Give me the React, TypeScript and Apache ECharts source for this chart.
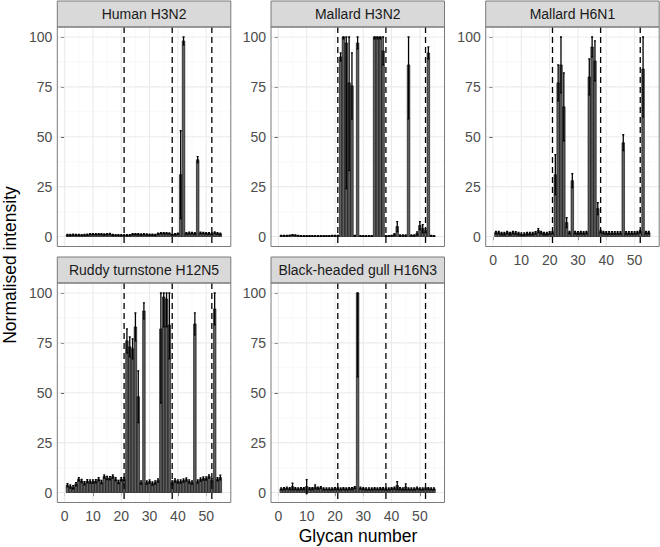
import React, { useEffect, useRef } from "react";
import * as echarts from "echarts";

const glycans = [
  1, 2, 3, 4, 5, 6, 7, 8, 9, 10,
  11, 12, 13, 14, 15, 16, 17, 18, 19, 20,
  21, 22, 23, 24, 25, 26, 27, 28, 29, 30,
  31, 32, 33, 34, 35, 36, 37, 38, 39, 40,
  41, 42, 43, 44, 45, 46, 47, 48, 49, 50,
  51, 52, 53, 54, 55,
];

const panelTitles = [
  "Human H3N2",
  "Mallard H3N2",
  "Mallard H6N1",
  "Ruddy turnstone H12N5",
  "Black-headed gull H16N3",
];

const humanH3N2Mean = [
  0.8, 0.8, 0.9, 0.8, 0.8, 0.7, 0.8, 0.9, 1.1, 1.2,
  1.1, 1.2, 1.1, 1.0, 1.2, 1.3, 0.8, 0.7, 0.7, 0.6,
  0.6, 0.6, 0.7, 1.1, 1.2, 1.1, 1.0, 1.1, 1.0, 0.9,
  0.9, 0.8, 1.4, 1.6, 1.7, 1.6, 1.5, 1.0, 1.2, 1.4,
  31, 98, 1.6, 1.8, 1.7, 1.5, 38.5, 1.8, 1.7, 1.6,
  1.5, 1.4, 1.9, 1.5, 1.3,
];
const humanH3N2Sd = [
  0.3, 0.3, 0.3, 0.3, 0.3, 0.3, 0.3, 0.3, 0.3, 0.3,
  0.3, 0.3, 0.3, 0.3, 0.3, 0.3, 0.3, 0.3, 0.3, 0.3,
  0.3, 0.3, 0.3, 0.3, 0.3, 0.3, 0.3, 0.3, 0.3, 0.3,
  0.3, 0.3, 0.3, 0.3, 0.3, 0.3, 0.3, 0.3, 0.3, 0.3,
  22, 2, 0.4, 0.4, 0.4, 0.4, 1.5, 0.4, 0.4, 0.4,
  0.4, 0.4, 0.4, 0.4, 0.4,
];

const mallardH3N2Mean = [
  0.4, 0.4, 0.4, 0.5, 0.8, 0.6, 0.4, 0.3, 0.3, 0.3,
  0.3, 0.3, 0.3, 0.3, 0.3, 0.3, 0.3, 0.3, 0.4, 0.4,
  0.4, 90, 100, 97, 77, 75.5, 0.4, 97, 0.3, 0.3,
  0.3, 0.3, 0.3, 100, 100, 100, 93, 0.3, 0.3, 0.4,
  1, 5, 0.5, 0.5, 0.5, 86, 0.5, 0.5, 1.5, 5.5,
  4, 3, 92, 0.4, 0.3,
];
const mallardH3N2Sd = [
  0.2, 0.2, 0.2, 0.2, 0.2, 0.2, 0.2, 0.2, 0.2, 0.2,
  0.2, 0.2, 0.2, 0.2, 0.2, 0.2, 0.2, 0.2, 0.2, 0.2,
  0.2, 2, 1, 73, 44, 16.5, 0.2, 3, 0.2, 0.2,
  0.2, 0.2, 0.2, 1, 1, 1, 7, 0.2, 0.2, 0.2,
  0.5, 2.5, 0.3, 0.3, 0.3, 27, 0.3, 0.3, 0.8, 2,
  2, 1, 3, 0.2, 0.2,
];

const mallardH6N1Mean = [
  2, 2, 1.5, 1.5, 2, 1.5, 2, 1.8, 1.5, 1.2,
  1.2, 1.5, 1.5, 1.5, 1.8, 3, 2, 1.5, 1.5, 1.8,
  2, 31, 77, 86, 65, 7, 2, 28, 2, 1.8,
  2, 1.8, 2, 80, 95, 88, 14, 2.5, 2, 1.8,
  1.8, 1.8, 1.8, 1.8, 1.8, 47, 1.8, 1.8, 1.8, 1.8,
  2, 2.5, 84, 2, 2,
];
const mallardH6N1Sd = [
  0.6, 0.6, 0.6, 0.6, 0.6, 0.6, 0.6, 0.6, 0.6, 0.6,
  0.6, 0.6, 0.6, 0.6, 0.6, 1, 0.6, 0.6, 0.6, 0.6,
  0.6, 10, 9, 14, 17, 2.5, 0.6, 3.5, 0.6, 0.6,
  0.6, 0.6, 0.6, 9, 5, 10, 3, 0.6, 0.6, 0.6,
  0.6, 0.6, 0.6, 0.6, 0.6, 4, 0.6, 0.6, 0.6, 0.6,
  0.6, 0.6, 24, 0.6, 0.6,
];

const ruddyTurnstoneMean = [
  3.7, 3, 2.7, 4.2, 6.7, 5.8, 4.7, 5.7, 5.5, 5.5,
  5.7, 6.7, 5.3, 8, 7.3, 7.2, 8, 6.7, 5.3, 6.7,
  6.7, 76, 73, 72, 83, 48, 5, 91, 5, 5.5,
  4.5, 5, 6, 82, 98, 97, 84, 5, 6, 5.5,
  5.5, 6, 6.5, 5.5, 5, 84.5, 5.5, 6.5, 7, 7,
  8, 6, 92, 6.7, 7.5,
];
const ruddyTurnstoneSd = [
  0.8, 0.8, 0.8, 0.8, 0.8, 0.8, 0.8, 0.8, 0.8, 0.8,
  0.8, 0.8, 0.8, 0.8, 0.8, 0.8, 0.8, 0.8, 0.8, 0.8,
  0.8, 6, 5, 5, 7, 13, 0.8, 4, 0.8, 0.8,
  0.8, 0.8, 0.8, 37, 15, 14, 17, 0.8, 0.8, 0.8,
  0.8, 0.8, 0.8, 0.8, 0.8, 5.5, 0.8, 0.8, 0.8, 0.8,
  0.8, 0.8, 8, 0.8, 1.2,
];

const blackHeadedGullMean = [
  1.8, 2, 2.2, 2, 3, 2, 1.8, 2, 2, 3,
  2, 2, 2.8, 2.2, 2.5, 1.8, 1.8, 1.8, 1.8, 2,
  2, 1.8, 2, 1.8, 2, 2, 2.5, 100, 2.2, 2,
  1.8, 1.8, 1.8, 2, 1.8, 2, 2, 1.8, 1.8, 2,
  2.2, 3.5, 2, 1.8, 2.8, 1.8, 1.8, 1.8, 2.2, 1.8,
  1.8, 2, 2, 1.8, 1.8,
];
const blackHeadedGullSd = [
  0.5, 0.5, 0.5, 0.5, 1.7, 0.5, 0.5, 0.5, 0.5, 3.5,
  0.5, 0.5, 1, 0.5, 0.5, 0.5, 0.5, 0.5, 0.5, 0.5,
  0.5, 0.5, 0.5, 0.5, 0.5, 0.5, 0.5, 42, 0.5, 0.5,
  0.5, 0.5, 0.5, 0.5, 0.5, 0.5, 0.5, 0.5, 0.5, 0.5,
  0.5, 2, 0.5, 0.5, 1.5, 0.5, 0.5, 0.5, 0.5, 0.5,
  0.5, 0.5, 0.5, 0.5, 0.5,
];

const xTicks = [0, 10, 20, 30, 40, 50];
const xMinorGrid = [5, 15, 25, 35, 45, 55];
const yTicks = [0, 25, 50, 75, 100];
const yMinorGrid = [12.5, 37.5, 62.5, 87.5];
const cutoffLines = [21, 38, 52];

const panelMeans = [humanH3N2Mean, mallardH3N2Mean, mallardH6N1Mean, ruddyTurnstoneMean, blackHeadedGullMean];
const panelSds = [humanH3N2Sd, mallardH3N2Sd, mallardH6N1Sd, ruddyTurnstoneSd, blackHeadedGullSd];

const FONT = "'Liberation Sans', Arial, Helvetica, sans-serif";
const PW = 173.5;
const PH = 219.5;
const STRIP_H = 26;
const LAYOUT = [
  { left: 57.3, top: 27, xLabels: false },
  { left: 271, top: 27, xLabels: false },
  { left: 485.7, top: 27, xLabels: true },
  { left: 57.3, top: 283, xLabels: true },
  { left: 271, top: 283, xLabels: true },
];

function buildOption() {
  const grid: any[] = [];
  const xAxis: any[] = [];
  const yAxis: any[] = [];
  const series: any[] = [];
  const graphic: any[] = [];

  LAYOUT.forEach((p, i) => {
    grid.push({ left: p.left, top: p.top, width: PW, height: PH, containLabel: false });
    xAxis.push({
      type: "value",
      gridIndex: i,
      min: -2.6,
      max: 58.7,
      axisLine: { show: false },
      splitLine: { show: false },
      axisTick: { show: p.xLabels, length: 3.7, lineStyle: { color: "#333333", width: 1 }, customValues: xTicks },
      axisLabel: { show: p.xLabels, customValues: xTicks, color: "#4D4D4D", fontSize: 14, fontFamily: FONT, margin: 6 },
    });
    yAxis.push({
      type: "value",
      gridIndex: i,
      min: -5,
      max: 105,
      axisLine: { show: false },
      splitLine: { show: false },
      axisTick: { show: true, length: 3.7, lineStyle: { color: "#333333", width: 1 }, customValues: yTicks },
      axisLabel: { show: true, customValues: yTicks, color: "#4D4D4D", fontSize: 14, fontFamily: FONT, margin: 5 },
    });

    const gridData: number[][] = [];
    yTicks.forEach((v) => gridData.push([v, 0, 1]));
    yMinorGrid.forEach((v) => gridData.push([v, 0, 0]));
    xTicks.forEach((v) => gridData.push([v, 1, 1]));
    xMinorGrid.forEach((v) => gridData.push([v, 1, 0]));

    series.push({
      type: "custom",
      xAxisIndex: i,
      yAxisIndex: i,
      z: 1,
      silent: true,
      data: gridData,
      renderItem: (params: any, api: any) => {
        const cs = params.coordSys;
        const val = api.value(0);
        const dir = api.value(1);
        const major = api.value(2);
        const style = { stroke: major ? "#EBEBEB" : "#F5F5F5", lineWidth: major ? 1.1 : 0.6 };
        if (dir === 0) {
          const y = api.coord([0, val])[1];
          return { type: "line", shape: { x1: cs.x, y1: y, x2: cs.x + cs.width, y2: y }, style };
        }
        const x = api.coord([val, 0])[0];
        return { type: "line", shape: { x1: x, y1: cs.y, x2: x, y2: cs.y + cs.height }, style };
      },
    });

    const means = panelMeans[i];
    const sds = panelSds[i];

    series.push({
      type: "custom",
      name: panelTitles[i],
      xAxisIndex: i,
      yAxisIndex: i,
      z: 2,
      clip: true,
      silent: true,
      data: glycans.map((g, j) => [g, means[j]]),
      renderItem: (params: any, api: any) => {
        const g = api.value(0);
        const v = api.value(1);
        const p0 = api.coord([g - 0.45, 0]);
        const p1 = api.coord([g + 0.45, v]);
        return {
          type: "rect",
          shape: { x: p0[0], y: p1[1], width: p1[0] - p0[0], height: p0[1] - p1[1] },
          style: { fill: "#5E5E5E", stroke: "#000000", lineWidth: 0.6 },
        };
      },
    });

    series.push({
      type: "custom",
      xAxisIndex: i,
      yAxisIndex: i,
      z: 3,
      clip: true,
      silent: true,
      data: glycans.map((g, j) => [g, means[j] - sds[j], Math.min(100, means[j] + sds[j])]),
      renderItem: (params: any, api: any) => {
        const g = api.value(0);
        const pLo = api.coord([g, api.value(1)]);
        const pHi = api.coord([g, api.value(2)]);
        const cw = api.size([0.35, 0])[0];
        const st = { stroke: "#000000", lineWidth: 1.3 };
        return {
          type: "group",
          children: [
            { type: "line", shape: { x1: pLo[0], y1: pLo[1], x2: pHi[0], y2: pHi[1] }, style: st },
            { type: "line", shape: { x1: pHi[0] - cw, y1: pHi[1], x2: pHi[0] + cw, y2: pHi[1] }, style: st },
            { type: "line", shape: { x1: pLo[0] - cw, y1: pLo[1], x2: pLo[0] + cw, y2: pLo[1] }, style: st },
          ],
        };
      },
    });

    series.push({
      type: "custom",
      xAxisIndex: i,
      yAxisIndex: i,
      z: 4,
      silent: true,
      data: cutoffLines.map((v) => [v, 0]),
      renderItem: (params: any, api: any) => {
        const cs = params.coordSys;
        const x = api.coord([api.value(0), 0])[0];
        return {
          type: "line",
          shape: { x1: x, y1: cs.y, x2: x, y2: cs.y + cs.height },
          style: { stroke: "#000000", lineWidth: 1.3, lineDash: [6, 4] },
        };
      },
    });

    // strip
    graphic.push({
      type: "rect",
      z: 10,
      shape: { x: p.left, y: p.top - STRIP_H, width: PW, height: STRIP_H },
      style: { fill: "#D9D9D9", stroke: "#7A7A7A", lineWidth: 1 },
    });
    graphic.push({
      type: "text",
      z: 11,
      x: p.left + PW / 2,
      y: p.top - STRIP_H / 2,
      style: {
        text: panelTitles[i],
        fill: "#1A1A1A",
        font: `14px ${FONT}`,
        align: "center",
        verticalAlign: "middle",
      },
    });
    // panel border
    graphic.push({
      type: "rect",
      z: 10,
      shape: { x: p.left, y: p.top, width: PW, height: PH },
      style: { fill: "none", stroke: "#7A7A7A", lineWidth: 1 },
    });
  });

  graphic.push({
    type: "text",
    x: 358,
    y: 536,
    style: {
      text: "Glycan number",
      fill: "#000000",
      font: `17.5px ${FONT}`,
      align: "center",
      verticalAlign: "middle",
    },
  });
  graphic.push({
    type: "text",
    x: 10,
    y: 265,
    rotation: Math.PI / 2,
    style: {
      text: "Normalised intensity",
      fill: "#000000",
      font: `17.5px ${FONT}`,
      align: "center",
      verticalAlign: "middle",
    },
  });

  return {
    animation: false,
    backgroundColor: "#FFFFFF",
    grid,
    xAxis,
    yAxis,
    series,
    graphic,
  };
}

export default function App() {
  const ref = useRef<HTMLDivElement>(null);
  useEffect(() => {
    if (!ref.current) return;
    const chart = echarts.init(ref.current, undefined, { renderer: "svg" });
    chart.setOption(buildOption() as any);
    return () => chart.dispose();
  }, []);
  return (
    <div
      ref={ref}
      style={{ position: "fixed", left: 0, top: 0, width: 660, height: 547, background: "#fff" }}
    />
  );
}
